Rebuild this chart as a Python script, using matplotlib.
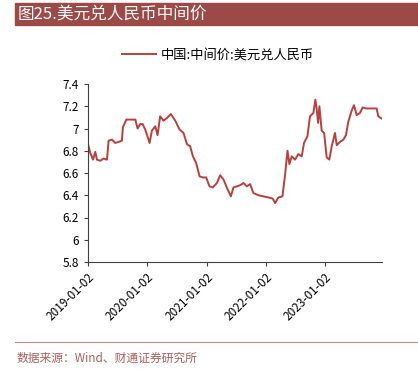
import matplotlib
matplotlib.use("Agg")
import matplotlib.pyplot as plt
import matplotlib.dates as mdates
import matplotlib.patches as patches
import pandas as pd

plt.rcParams['font.family'] = ['Noto Sans CJK SC', 'DejaVu Sans']

# USD/CNY central parity
dates = [
    "2019-01-02", "2019-01-16", "2019-02-02", "2019-02-16", "2019-02-26", "2019-03-19",
    "2019-04-08", "2019-04-29", "2019-05-09", "2019-05-30", "2019-06-19", "2019-07-10",
    "2019-07-30", "2019-08-05", "2019-08-26", "2019-09-20", "2019-10-21", "2019-11-04",
    "2019-11-20", "2019-12-05", "2019-12-21", "2020-01-17", "2020-01-31", "2020-02-21",
    "2020-03-06", "2020-03-22", "2020-04-12", "2020-05-07", "2020-05-27", "2020-06-23",
    "2020-07-20", "2020-08-13", "2020-09-03", "2020-09-23", "2020-10-10", "2020-10-30",
    "2020-11-20", "2020-12-10", "2020-12-31", "2021-01-20", "2021-02-10", "2021-03-07",
    "2021-03-27", "2021-04-17", "2021-05-07", "2021-06-01", "2021-06-17", "2021-07-08",
    "2021-07-28", "2021-08-18", "2021-09-07", "2021-09-28", "2021-10-18", "2021-11-18",
    "2021-12-19", "2022-01-19", "2022-02-14", "2022-03-01", "2022-03-21", "2022-04-15",
    "2022-05-01", "2022-05-16", "2022-05-28", "2022-06-11", "2022-07-02", "2022-07-22",
    "2022-08-12", "2022-08-26", "2022-09-16", "2022-10-02", "2022-10-23", "2022-11-04",
    "2022-11-12", "2022-11-21", "2022-11-29", "2022-12-13", "2022-12-28", "2023-01-13",
    "2023-01-29", "2023-02-13", "2023-03-05", "2023-03-16", "2023-04-05", "2023-04-26",
    "2023-05-12", "2023-05-26", "2023-06-16", "2023-06-30", "2023-07-17", "2023-08-06",
    "2023-08-23", "2023-09-12", "2023-10-07", "2023-11-17", "2023-11-27", "2023-12-18",
]
values = [
    6.86, 6.78, 6.72, 6.79, 6.72, 6.71,
    6.73, 6.72, 6.89, 6.90, 6.87, 6.88,
    6.89, 7.01, 7.08, 7.08, 7.08, 7.00,
    7.04, 7.04, 6.99, 6.87, 6.98, 7.02,
    6.94, 7.11, 7.07, 7.10, 7.13, 7.07,
    6.99, 6.96, 6.86, 6.84, 6.75, 6.69,
    6.57, 6.56, 6.56, 6.48, 6.47, 6.51,
    6.58, 6.54, 6.47, 6.39, 6.47, 6.48,
    6.49, 6.51, 6.48, 6.50, 6.42, 6.40,
    6.39, 6.38, 6.37, 6.33, 6.38, 6.39,
    6.58, 6.80, 6.68, 6.75, 6.72, 6.77,
    6.75, 6.87, 6.93, 7.11, 7.14, 7.26,
    7.18, 7.05, 7.20, 6.98, 6.96, 6.74,
    6.72, 6.84, 6.96, 6.85, 6.88, 6.90,
    6.94, 7.06, 7.16, 7.21, 7.12, 7.14,
    7.19, 7.18, 7.18, 7.18, 7.11, 7.09,
]
yticks = [5.8, 6.0, 6.2, 6.4, 6.6, 6.8, 7.0, 7.2, 7.4]
ytick_labels = ["5.8", "6", "6.2", "6.4", "6.6", "6.8", "7", "7.2", "7.4"]
xticks = ["2019-01-02", "2020-01-02", "2021-01-02", "2022-01-02", "2023-01-02"]

title = "图25.美元兑人民币中间价"
series_name = "中国:中间价:美元兑人民币"
source = "数据来源：Wind、财通证券研究所"

W, H = 418, 374
fig = plt.figure(figsize=(W / 100, H / 100), dpi=100)

# title bar
fig.patches.append(patches.Rectangle((15 / W, 1 - 25 / H), 1 - 15 / W, 22 / H,
                                     transform=fig.transFigure, color="#9B4A47", zorder=0))
fig.text(18 / W, 1 - 14 / H, title, color="white", fontsize=12, va="center", ha="left")

ax = fig.add_axes([88 / W, 1 - 262 / H, (382 - 88) / W, (262 - 84) / H])
x = pd.to_datetime(dates)
line, = ax.plot(x, values, color="#B5413F", lw=1.4, label=series_name)

ax.set_ylim(5.8, 7.4)
ax.set_yticks(yticks)
ax.set_yticklabels(ytick_labels)
ax.set_xlim(pd.Timestamp("2019-01-02"), pd.Timestamp("2023-12-20"))
ax.set_xticks(pd.to_datetime(xticks))
ax.xaxis.set_major_formatter(mdates.DateFormatter("%Y-%m-%d"))
for lbl in ax.get_xticklabels():
    lbl.set_rotation(45)
    lbl.set_ha("right")
    lbl.set_rotation_mode("anchor")

for s in ["top", "right"]:
    ax.spines[s].set_visible(False)
for s in ["left", "bottom"]:
    ax.spines[s].set_color("#404040")
    ax.spines[s].set_linewidth(0.8)
ax.tick_params(axis="both", colors="#404040", labelcolor="black", labelsize=8.5,
               length=3, width=0.8)

fig.legend(handles=[line], loc="center", bbox_to_anchor=(218 / W, 1 - 55 / H),
           frameon=False, fontsize=9.5, handlelength=2.6, handletextpad=0.4)

# source line
fig.add_artist(plt.Line2D([15 / W, 1], [1 - 342 / H, 1 - 342 / H],
                          transform=fig.transFigure, color="#C98A87", lw=0.8))
fig.text(17 / W, 1 - 358 / H, source, color="#A8605C", fontsize=8.5, va="center", ha="left")

fig.savefig("out.png", dpi=100)
